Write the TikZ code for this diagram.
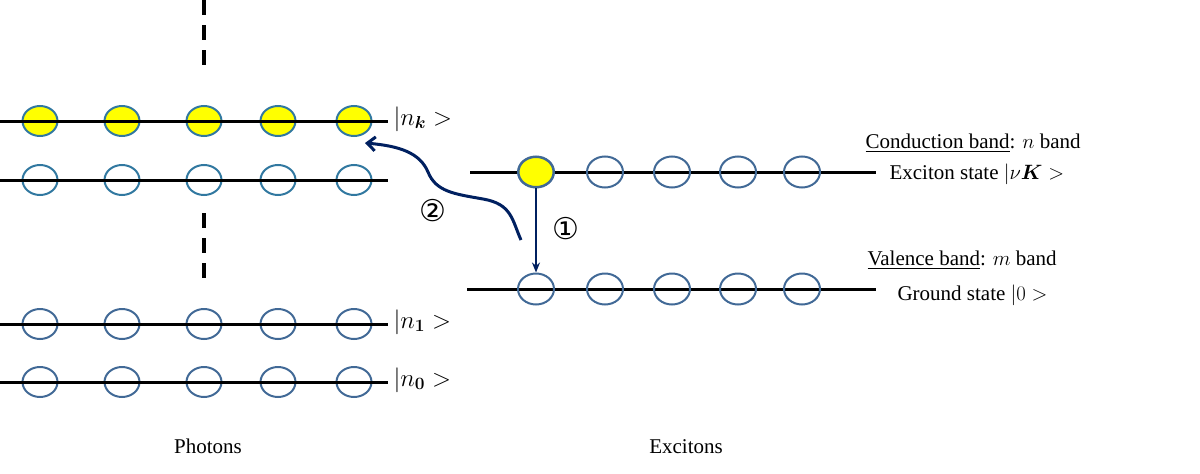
\documentclass[tikz,border=0pt]{standalone}
\usepackage{amsmath}
\usepackage{amssymb}
\usepackage{fontspec}
\setmainfont{Liberation Serif}
\newfontfamily\circfont{DejaVu Sans}
\usetikzlibrary{arrows.meta,shapes.geometric}
\definecolor{ringteal}{RGB}{49,120,160}
\definecolor{ringblue}{RGB}{65,105,150}
\definecolor{navy}{RGB}{0,32,96}
\definecolor{photonyellow}{RGB}{255,255,0}

\begin{document}
\begin{tikzpicture}[x=1pt,y=-1pt,font=\fontsize{21}{25}\selectfont,
		level/.style={line width=3pt},
		ring/.style={ellipse,draw=ringteal,line width=2pt,minimum width=35pt,minimum height=30pt,inner sep=0pt},
		full/.style={ring,fill=photonyellow},
		ketlabel/.style={anchor=west,font=\fontsize{24}{28}\selectfont},
		steplabel/.style={font=\circfont\fontsize{30}{34}\selectfont},
		decay/.style={draw=navy,line width=2.2pt,-{Stealth[length=10pt,width=8pt]}},
		emit/.style={draw=navy,line width=3pt,-{Straight Barb[length=8pt,width=14pt]}}]
		\useasboundingbox (0,0) rectangle (1200,474);
		% photons
		\foreach \x [count=\i] in {40,122,204,278,354}{
			\node[full] (pk\i) at (\x,121) {};
			\node[ring] (pm\i) at (\x,180) {};
			\node[ring,draw=ringblue] (p1\i) at (\x,324) {};
			\node[ring,draw=ringblue] (p0\i) at (\x,382) {};
		}
		\foreach \y in {121,180,324,382}
			\draw[level] (0,\y) -- (388,\y);
		\draw[line width=3.5pt,dash pattern=on 15pt off 10pt] (204,0) -- (204,70);
		\draw[line width=3.5pt,dash pattern=on 15pt off 10pt] (204,213) -- (204,285);
		\node[ketlabel] (nk) at (390,119) {$|n_{\boldsymbol{k}}>$};
		\node[ketlabel] (n1) at (390,322) {$|n_{\boldsymbol{1}}>$};
		\node[ketlabel] (n0) at (390,380) {$|n_{\boldsymbol{0}}>$};
		\node[anchor=base] (photons) at (208,453) {Photons};
		% excitons
		\draw[level] (470,172) -- (876,172);
		\draw[level] (467,289) -- (876,289);
		\foreach \x [count=\i] in {536,605,672,738,802}{
			\node[ring,draw=ringblue,minimum width=36pt,minimum height=31pt] (ec\i) at (\x,172) {};
			\node[ring,draw=ringblue,minimum width=36pt,minimum height=31pt] (ev\i) at (\x,289) {};
		}
		\node[full,draw=ringblue] (ec1) at (536,172) {};
		\node[anchor=base west] (cond) at (862,148) {\underline{Conduction band}: $n$ band};
		\node[anchor=base west] (exst) at (886,179) {Exciton state $|\nu\boldsymbol{K}>$};
		\node[anchor=base west] (val) at (864,265) {\underline{Valence band}: $m$ band};
		\node[anchor=base west] (gnd) at (894,300) {Ground state $|0>$};
		\node[anchor=base] (excitons) at (686,453) {Excitons};
		% transitions
		\draw[decay] (ec1.south) -- (ev1.north);
		\node[steplabel] (one) at (566,229) {①};
		\coordinate (wstart) at (521,240);
		\coordinate (wtip) at (365,143);
		\draw[emit] (wstart) .. controls (512,220) and (512,204) .. (483,199)
			.. controls (455,194) and (436,192) .. (428,172)
			.. controls (420,153) and (400,146) .. (wtip);
		\node[steplabel] (two) at (433,211) {②};
\end{tikzpicture}
\end{document}
